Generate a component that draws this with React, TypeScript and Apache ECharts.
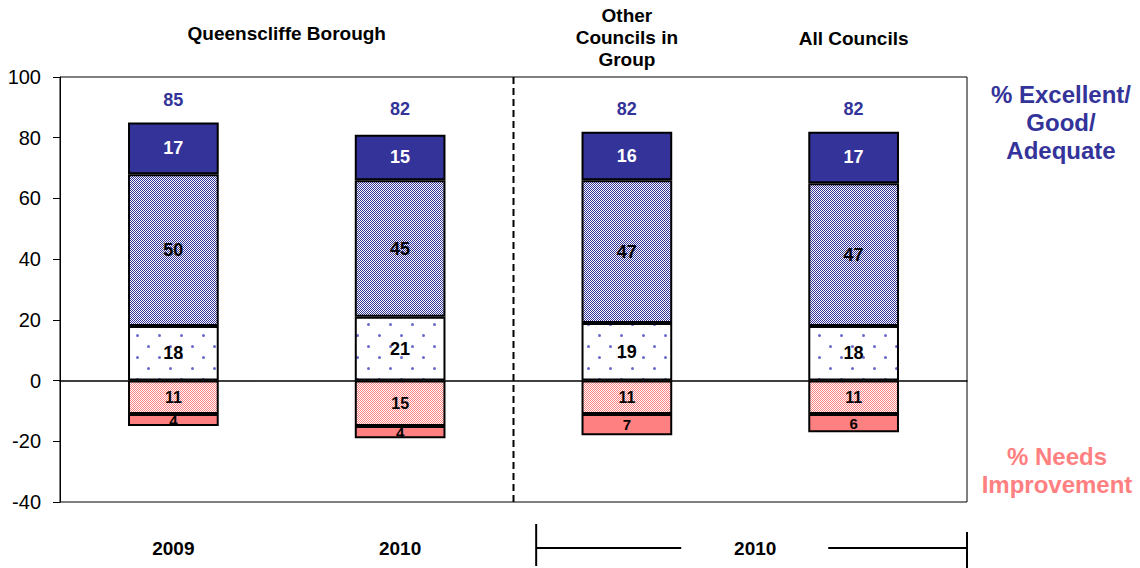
import React, { useEffect, useRef } from 'react';
import * as echarts from 'echarts';

const categories = ['Queenscliffe 2009', 'Queenscliffe 2010', 'Other Councils in Group', 'All Councils'];
const excellent = [17, 15, 16, 17];
const good = [50, 45, 47, 47];
const adequate = [18, 21, 19, 18];
const needsSome = [-11, -15, -11, -11];
const needsALot = [-4, -4, -7, -6];
const totals = [85, 82, 82, 82];
const headerLabels = ['Queenscliffe Borough', 'Other\nCouncils in\nGroup', 'All Councils'];
const bottomLabels = ['2009', '2010'];
const bracketLabel = '2010';
const positiveNote = '% Excellent/\nGood/\nAdequate';
const negativeNote = '% Needs\nImprovement';
const yMin = -40;
const yMax = 100;
const yInterval = 20;

const FONT = 'Liberation Sans, Arial, sans-serif';
const NAVY = '#333399';
const SALMON = '#ff8080';

function checker(c1: string, c2: string) {
  const cv = document.createElement('canvas');
  cv.width = 2;
  cv.height = 2;
  const ctx = cv.getContext('2d')!;
  ctx.fillStyle = c2;
  ctx.fillRect(0, 0, 2, 2);
  ctx.fillStyle = c1;
  ctx.fillRect(0, 0, 1, 1);
  ctx.fillRect(1, 1, 1, 1);
  return cv;
}

function dots() {
  const cv = document.createElement('canvas');
  cv.width = 22;
  cv.height = 22;
  const ctx = cv.getContext('2d')!;
  ctx.fillStyle = '#ffffff';
  ctx.fillRect(0, 0, 22, 22);
  ctx.fillStyle = '#6a6acc';
  ctx.beginPath();
  ctx.arc(5.5, 5.5, 1.5, 0, Math.PI * 2);
  ctx.arc(16.5, 16.5, 1.5, 0, Math.PI * 2);
  ctx.fill();
  return cv;
}

export default function App() {
  const ref = useRef<HTMLDivElement>(null);
  useEffect(() => {
    if (!ref.current) return;
    const chart = echarts.init(ref.current, undefined, { renderer: 'svg' });
    const goodPattern = { image: checker(NAVY, '#ffffff'), repeat: 'repeat' as const, imageWidth: 2, imageHeight: 2 };
    const pinkPattern = { image: checker(SALMON, '#ffffff'), repeat: 'repeat' as const, imageWidth: 2, imageHeight: 2 };
    const dotPattern = { image: dots(), repeat: 'repeat' as const, imageWidth: 22, imageHeight: 22 };
    const border = { borderColor: '#000', borderWidth: 2 };
    const lbl = (color: string, size: number) => ({
      show: true,
      position: 'inside' as const,
      color,
      fontSize: size,
      fontWeight: 'bold' as const,
      fontFamily: FONT,
      formatter: (p: any) => String(Math.abs(p.value)),
    });
    const common = { type: 'bar' as const, stack: 'a', barWidth: '40%' };
    chart.setOption({
      animation: false,
      grid: { left: 60, right: 173, top: 77, bottom: 66, show: true, borderColor: '#000', borderWidth: 1 },
      xAxis: {
        type: 'category',
        data: categories,
        axisLine: { show: true, onZero: true, lineStyle: { color: '#000', width: 1.5 } },
        axisTick: { show: false },
        axisLabel: { show: false },
      },
      yAxis: {
        type: 'value',
        min: yMin,
        max: yMax,
        interval: yInterval,
        axisLine: { show: true, lineStyle: { color: '#000', width: 1 } },
        axisTick: { show: true, length: 7, lineStyle: { color: '#000' } },
        splitLine: { show: false },
        axisLabel: { color: '#000', fontSize: 20, fontFamily: FONT, margin: 19 },
      },
      series: [
        { ...common, name: 'Adequate', data: adequate, itemStyle: { color: dotPattern, ...border }, label: lbl('#000', 18) },
        { ...common, name: 'Good', data: good, itemStyle: { color: goodPattern, ...border }, label: lbl('#000', 18) },
        { ...common, name: 'Excellent', data: excellent, itemStyle: { color: NAVY, ...border }, label: lbl('#fff', 18) },
        { ...common, name: 'Needs some', data: needsSome, itemStyle: { color: pinkPattern, ...border }, label: lbl('#000', 16) },
        { ...common, name: 'Needs a lot', data: needsALot, itemStyle: { color: SALMON, ...border }, label: lbl('#000', 15) },
        {
          type: 'scatter',
          name: 'Total',
          data: totals,
          symbolSize: 1,
          itemStyle: { color: 'rgba(0,0,0,0)', opacity: 1 },
          label: { show: true, position: 'top', distance: 13, color: NAVY, fontSize: 18, fontWeight: 'bold', fontFamily: FONT },
        },
      ],
    });

    const px = (i: number) => chart.convertToPixel({ xAxisIndex: 0 }, categories[i]) as number;
    const yTop = chart.convertToPixel({ yAxisIndex: 0 }, yMax) as number;
    const yBot = chart.convertToPixel({ yAxisIndex: 0 }, yMin) as number;
    const band = px(1) - px(0);
    const divider = (px(1) + px(2)) / 2;
    const gridRight = px(3) + band / 2;
    const bracketLeft = px(2) - band * 0.4;
    const bracketMid = (px(2) + px(3)) / 2 + 15;
    const tStyle = (size: number, color = '#000') => ({
      fill: color,
      font: `bold ${size}px ${FONT}`,
      textAlign: 'center' as const,
      textVerticalAlign: 'middle' as const,
    });
    const bottomY = 548;
    chart.setOption({
      graphic: [
        { type: 'line', shape: { x1: divider, y1: yTop, x2: divider, y2: yBot }, style: { stroke: '#000', lineWidth: 2, lineDash: [7, 4] } },
        { type: 'text', x: (px(0) + px(1)) / 2, y: 33, style: { text: headerLabels[0], ...tStyle(19) } },
        { type: 'text', x: px(2), y: 37, style: { text: headerLabels[1], lineHeight: 22, ...tStyle(19) } },
        { type: 'text', x: px(3), y: 38, style: { text: headerLabels[2], ...tStyle(19) } },
        { type: 'text', x: px(0), y: bottomY, style: { text: bottomLabels[0], ...tStyle(19) } },
        { type: 'text', x: px(1), y: bottomY, style: { text: bottomLabels[1], ...tStyle(19) } },
        { type: 'text', x: bracketMid, y: bottomY, style: { text: bracketLabel, ...tStyle(19) } },
        { type: 'line', shape: { x1: bracketLeft, y1: 524, x2: bracketLeft, y2: 566 }, style: { stroke: '#000', lineWidth: 2 } },
        { type: 'line', shape: { x1: bracketLeft, y1: bottomY, x2: bracketMid - 74, y2: bottomY }, style: { stroke: '#000', lineWidth: 2 } },
        { type: 'line', shape: { x1: bracketMid + 73, y1: bottomY, x2: gridRight, y2: bottomY }, style: { stroke: '#000', lineWidth: 2 } },
        { type: 'line', shape: { x1: gridRight, y1: 532, x2: gridRight, y2: 568 }, style: { stroke: '#000', lineWidth: 2 } },
        { type: 'text', x: 1061, y: 122, style: { text: positiveNote, lineHeight: 28, ...tStyle(24, NAVY) } },
        { type: 'text', x: 1057, y: 470, style: { text: negativeNote, lineHeight: 28, ...tStyle(24, SALMON) } },
      ],
    });
    return () => chart.dispose();
  }, []);
  return <div ref={ref} style={{ width: 1140, height: 568, position: 'absolute', left: 0, top: 0 }} />;
}
